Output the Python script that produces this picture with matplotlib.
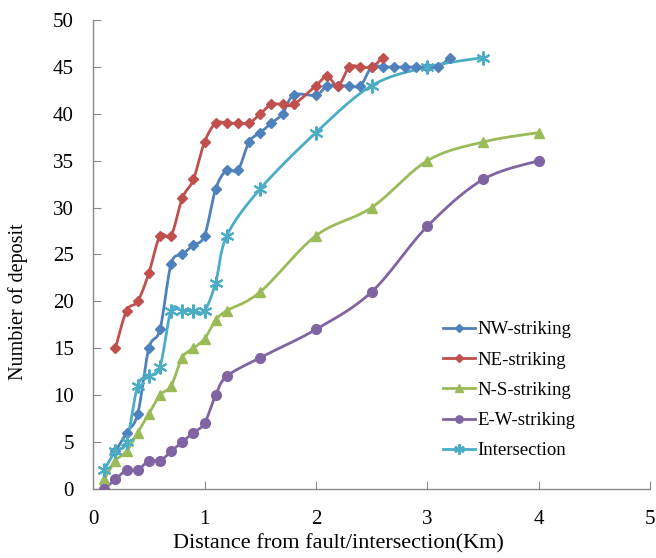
import numpy as np
import matplotlib
matplotlib.use('Agg')
import matplotlib.pyplot as plt

# distance (km) and number of deposits for each group
nw_x = [0.2, 0.3, 0.4, 0.5, 0.6, 0.7, 0.8, 0.9, 1.0, 1.1, 1.2, 1.3, 1.4, 1.5, 1.6, 1.7, 1.8,
        2.0, 2.1, 2.2, 2.3, 2.4, 2.5, 2.6, 2.7, 2.8, 2.9, 3.0, 3.1, 3.2]
nw_y = [4, 6, 8, 15, 17, 24, 25, 26, 27, 32, 34, 34, 37, 38, 39, 40, 42,
        42, 43, 43, 43, 43, 45, 45, 45, 45, 45, 45, 45, 46]

ne_x = [0.2, 0.3, 0.4, 0.5, 0.6, 0.7, 0.8, 0.9, 1.0, 1.1, 1.2, 1.3, 1.4, 1.5, 1.6, 1.7, 1.8,
        2.0, 2.1, 2.2, 2.3, 2.4, 2.5, 2.6]
ne_y = [15, 19, 20, 23, 27, 27, 31, 33, 37, 39, 39, 39, 39, 40, 41, 41, 41,
        43, 44, 43, 45, 45, 45, 46]

ns_x = [0.1, 0.2, 0.3, 0.4, 0.5, 0.6, 0.7, 0.8, 0.9, 1.0, 1.1, 1.2, 1.5, 2.0, 2.5, 3.0, 3.5, 4.0]
ns_y = [1, 3, 4, 6, 8, 10, 11, 14, 15, 16, 18, 19, 21, 27, 30, 35, 37, 38]

ew_x = [0.1, 0.2, 0.3, 0.4, 0.5, 0.6, 0.7, 0.8, 0.9, 1.0, 1.1, 1.2, 1.5, 2.0, 2.5, 3.0, 3.5, 4.0]
ew_y = [0, 1, 2, 2, 3, 3, 4, 5, 6, 7, 10, 12, 14, 17, 21, 28, 33, 35]

in_x = [0.1, 0.2, 0.3, 0.4, 0.5, 0.6, 0.7, 0.8, 0.9, 1.0, 1.1, 1.2, 1.5, 2.0, 2.5, 3.0, 3.5]
in_y = [2, 4, 5, 11, 12, 13, 19, 19, 19, 19, 22, 27, 32, 38, 43, 45, 46]

labels = ['NW-striking', 'NE-striking', 'N-S-striking', 'E-W-striking', 'Intersection']


def smooth(x, y, n=20):
    # catmull-rom curve through the points, like excel's smoothed lines
    x = np.asarray(x, float)
    y = np.asarray(y, float)
    p = np.column_stack((x, y))
    p = np.vstack((p[0], p, p[-1]))
    out = []
    t = np.linspace(0, 1, n, endpoint=False)[:, None]
    for i in range(1, len(p) - 2):
        p0, p1, p2, p3 = p[i - 1], p[i], p[i + 1], p[i + 2]
        c1 = p1 + (p2 - p0) / 6.0
        c2 = p2 - (p3 - p1) / 6.0
        seg = ((1 - t) ** 3) * p1 + 3 * ((1 - t) ** 2) * t * c1 + 3 * (1 - t) * t ** 2 * c2 + t ** 3 * p2
        out.append(seg)
    out.append(p[-2][None, :])
    out = np.vstack(out)
    return out[:, 0], out[:, 1]


plt.rcParams['font.family'] = ['Liberation Serif', 'DejaVu Serif']

fig = plt.figure(figsize=(6.56, 5.58), dpi=100)
ax = fig.add_axes([0.142, 0.124, 0.849, 0.840])

series = [
    (nw_x, nw_y, '#4F81BD', 'D', 5, 1.0),
    (ne_x, ne_y, '#C0504D', 'D', 5, 1.0),
    (ns_x, ns_y, '#9BBB59', '^', 7, 1.0),
    (ew_x, ew_y, '#8064A2', 'o', 7, 1.0),
    (in_x, in_y, '#4BACC6', (6, 2, 0), 10, 1.5),
]

handles = []
for (xs, ys, c, m, ms, mew), lab in zip(series, labels):
    sx, sy = smooth(xs, ys)
    ax.plot(sx, sy, color=c, lw=2.0, zorder=2)
    ax.plot(xs, ys, ls='none', marker=m, ms=ms, color=c, mec=c, mew=mew, zorder=3)
    h, = ax.plot([], [], color=c, lw=2.0, marker=m, ms=ms * 0.75, mec=c, mew=mew)
    handles.append(h)

ax.set_xlim(0, 5)
ax.set_ylim(0, 50)
ax.set_xticks(np.arange(0, 6, 1))
ax.set_yticks(np.arange(0, 55, 5))

for s in ['top', 'right']:
    ax.spines[s].set_visible(False)
for s in ['left', 'bottom']:
    ax.spines[s].set_color('#888888')
    ax.spines[s].set_linewidth(1.0)
ax.tick_params(direction='in', length=6, color='#888888', labelsize=15)
ax.tick_params(axis='x', pad=15)
ax.tick_params(axis='y', pad=14)

ax.set_xlabel('Distance from fault/intersection(Km)', fontsize=16)
ax.xaxis.set_label_coords(0.44, -0.096)
ax.set_ylabel('Numbier of deposit', fontsize=14.5)
ax.yaxis.set_label_coords(-0.117, 0.40)

ax.legend(handles, labels, loc='upper left', bbox_to_anchor=(0.661, 0.441),
          bbox_transform=fig.transFigure, frameon=False, fontsize=13.5,
          handlelength=1.7, handletextpad=0.15, labelspacing=0.7, borderpad=0)

fig.savefig('out.png', dpi=100)
